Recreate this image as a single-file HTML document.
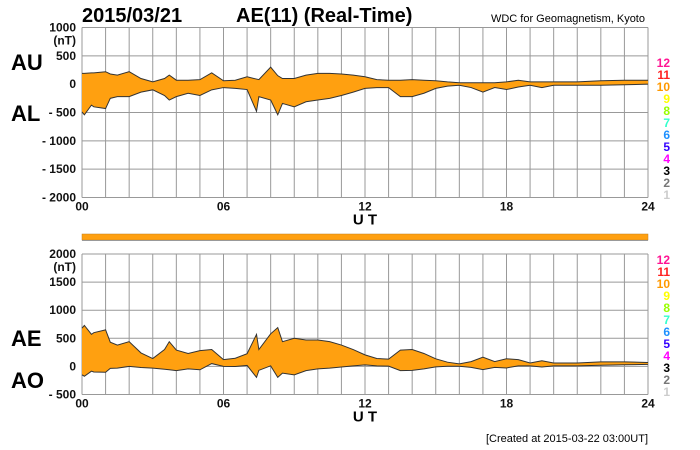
<!DOCTYPE html>
<html><head><meta charset="utf-8"><style>
body{margin:0;background:#fff;}
svg{display:block;font-family:"Liberation Sans",Arial,sans-serif;}
.t{font-weight:bold;font-size:12px;fill:#111;}
</style></head><body>
<svg id="c" width="700" height="450" viewBox="0 0 700 450">
<text x="82" y="22" font-size="20" font-weight="bold">2015/03/21</text>
<text x="236" y="22" font-size="20" font-weight="bold">AE(11) (Real-Time)</text>
<text x="645" y="22" font-size="11" text-anchor="end">WDC for Geomagnetism, Kyoto</text>
<text x="648" y="442" font-size="11" text-anchor="end">[Created at 2015-03-22 03:00UT]</text>
<g id="g1"></g><g id="g2"></g>
<rect x="82" y="234" width="566" height="6" fill="#ffa010" stroke="#c08020" stroke-width="0.5"/>
<line x1="82" y1="240.5" x2="648" y2="240.5" stroke="#999"/>
</svg>
<script>
const hours=[0,0.1,0.4,0.5,1,1.2,1.5,2,2.5,3,3.5,3.7,4,4.5,5,5.5,6,6.5,7,7.4,7.5,8,8.3,8.5,9,9.5,10,10.5,11,11.5,12,12.5,13,13.5,14,14.5,15,15.5,16,16.5,17,17.5,18,18.5,19,19.5,20,21,22,23,24];
const au=[190,190,200,200,220,180,160,220,100,40,100,160,70,70,80,200,60,70,130,90,80,300,150,100,100,160,190,190,180,160,130,80,70,70,80,70,60,40,25,25,25,25,40,70,40,40,40,40,60,70,70];
const al=[-490,-540,-370,-400,-430,-250,-220,-220,-140,-100,-200,-280,-220,-160,-200,-100,-60,-75,-95,-480,-220,-280,-540,-340,-400,-310,-280,-250,-200,-140,-75,-60,-60,-220,-220,-160,-75,-35,-20,-60,-140,-60,-95,-50,-20,-60,-20,-20,-20,-10,0];
const xTicks=["00","06","12","18","24"];
const y1Ticks=[1000,500,0,-500,-1000,-1500,-2000];
const y2Ticks=[2000,1500,1000,500,0,-500];
const legendNums=["12","11","10","9","8","7","6","5","4","3","2","1"];
const legendCols=["#ff1493","#ff2020","#ff9900","#ffff00","#99ff00","#33ffcc","#1e90ff","#3300ff","#ff00ff","#000","#777","#ccc"];
const NS="http://www.w3.org/2000/svg";
const X0=82,X1=648;
const xs=h=>X0+(X1-X0)*h/24;
function mk(p,tag,a){const e=document.createElementNS(NS,tag);for(const k in a)e.setAttribute(k,a[k]);p.appendChild(e);return e;}
function panel(g,top,bot,vmax,vmin,ticks,upper,lower,n1,n2,l1y,l2y,legTop){
  const ys=v=>top+(vmax-v)*(bot-top)/(vmax-vmin);
  for(let h=0;h<=24;h++){const l=mk(g,'line',{x1:xs(h),x2:xs(h),y1:top,y2:bot,stroke:'#999','stroke-width':1});
  
  }
  ticks.forEach((v,i)=>{const l=mk(g,'line',{x1:X0,x2:X1,y1:ys(v),y2:ys(v),stroke:'#999','stroke-width':1});
  
  
  const t=mk(g,'text',{x:76,y:ys(v)+4,'text-anchor':'end','class':'t'});t.textContent=v<0?'- '+(-v):String(v);
  
  });
  const u=mk(g,'text',{x:76,y:ys(ticks[0])+17,'text-anchor':'end','class':'t'});u.textContent='(nT)';
  
  
  let d='M'+hours.map((h,i)=>xs(h)+','+ys(upper[i])).join('L');
  for(let i=hours.length-1;i>=0;i--)d+='L'+xs(hours[i])+','+ys(lower[i]);
  const a=mk(g,'path',{d:d+'Z',fill:'#ffa010',stroke:'none'});
  
  
  const pu=mk(g,'path',{d:'M'+hours.map((h,i)=>xs(h)+','+ys(upper[i])).join('L'),fill:'none',stroke:'#333','stroke-width':1});
  
  
  const pl=mk(g,'path',{d:'M'+hours.map((h,i)=>xs(h)+','+ys(lower[i])).join('L'),fill:'none',stroke:'#333','stroke-width':1});
  
  
  xTicks.forEach((s,i)=>{const t=mk(g,'text',{x:xs(i*6),y:bot+13,'text-anchor':'middle','class':'t'});t.textContent=s;
  
  });
  const ut=mk(g,'text',{x:365,y:bot+27,'text-anchor':'middle','font-size':15,'font-weight':'bold'});ut.textContent='U T';
  
  
  const a1=mk(g,'text',{x:11,y:l1y,'font-size':22,'font-weight':'bold'});a1.textContent=n1;
  
  
  const a2=mk(g,'text',{x:11,y:l2y,'font-size':22,'font-weight':'bold'});a2.textContent=n2;
  
  
  legendNums.forEach((s,i)=>{const t=mk(g,'text',{x:670,y:legTop+i*12,'text-anchor':'end','class':'t',fill:legendCols[i],style:'fill:'+legendCols[i]});t.textContent=s;
  
  });
}
const ae=au.map((v,i)=>v-al[i]);
const ao=au.map((v,i)=>(v+al[i])/2);
panel(document.getElementById('g1'),27.5,197.5,1000,-2000,y1Ticks,au,al,'AU','AL',70,121,67);
panel(document.getElementById('g2'),254,394.5,2000,-500,y2Ticks,ae,ao,'AE','AO',346,388,264);
</script>
</body></html>
